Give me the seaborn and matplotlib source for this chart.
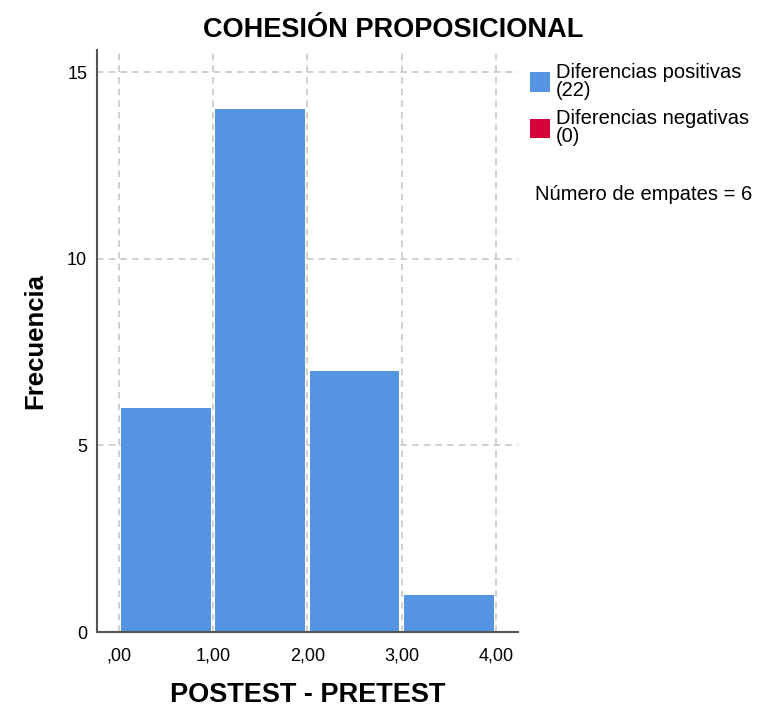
import numpy as np
import pandas as pd
import seaborn as sns
import matplotlib.pyplot as plt
from matplotlib.patches import Patch

# histogram data
bin_edges = [0, 1, 2, 3, 4]
counts = [6, 14, 7, 1]
x_ticks = [0, 1, 2, 3, 4]
x_tick_labels = [",00", "1,00", "2,00", "3,00", "4,00"]
y_ticks = [0, 5, 10, 15]
legend_labels = ["Diferencias positivas\n(22)", "Diferencias negativas\n(0)"]
legend_colors = ["#5594e2", "#d6003a"]
empates = 6

sns.set_style("white")
plt.rcParams["font.family"] = ["Liberation Sans", "DejaVu Sans"]
plt.rcParams["text.color"] = "black"
plt.rcParams["axes.labelcolor"] = "black"
plt.rcParams["xtick.color"] = "black"
plt.rcParams["ytick.color"] = "black"

df = pd.DataFrame({"centro": np.array(bin_edges[:-1]) + 0.5, "n": counts})

fig = plt.figure(figsize=(7.75, 7.11), dpi=100)
ax = fig.add_axes([0.125, 0.111, 0.543, 0.819])

ax.grid(True, color="#c8c8c8", linestyle=(0, (4, 3)), linewidth=1.2)
ax.set_axisbelow(True)
sns.histplot(data=df, x="centro", weights="n", bins=bin_edges, color=legend_colors[0],
             alpha=1, edgecolor="none", shrink=0.95, ax=ax)

ax.set_xlim(-0.23, 4.23)
ax.set_ylim(0, 15.6)
ax.set_xticks(x_ticks)
ax.set_xticklabels(x_tick_labels, fontsize=13)
ax.set_yticks(y_ticks)
ax.set_yticklabels([str(v) for v in y_ticks], fontsize=13)
ax.tick_params(axis="y", length=0, pad=7)
ax.tick_params(axis="x", length=0, pad=11)
for s in ["top", "right"]:
    ax.spines[s].set_visible(False)
for s in ["left", "bottom"]:
    ax.spines[s].set_color("#555555")
    ax.spines[s].set_linewidth(1.5)

ax.set_xlabel("POSTEST - PRETEST", fontsize=19.5, fontweight="bold", labelpad=13)
ax.set_ylabel("Frecuencia", fontsize=18.5, fontweight="bold", labelpad=14)
fig.text(0.507, 0.958, "COHESIÓN PROPOSICIONAL", ha="center", va="center",
         fontsize=19.5, fontweight="bold")

handles = [Patch(facecolor=c, edgecolor="none") for c in legend_colors]
leg = fig.legend(handles, legend_labels, loc="upper left", bbox_to_anchor=(0.673, 0.923),
                 frameon=False, fontsize=14.5, handlelength=1.0, handleheight=1.1,
                 handletextpad=0.3, labelspacing=0.45, borderaxespad=0)
for t in leg.get_texts():
    t.set_linespacing(0.95)
fig.text(0.69, 0.727, f"Número de empates = {empates}", ha="left", va="center", fontsize=14.5)

fig.savefig("out.png", dpi=100)
